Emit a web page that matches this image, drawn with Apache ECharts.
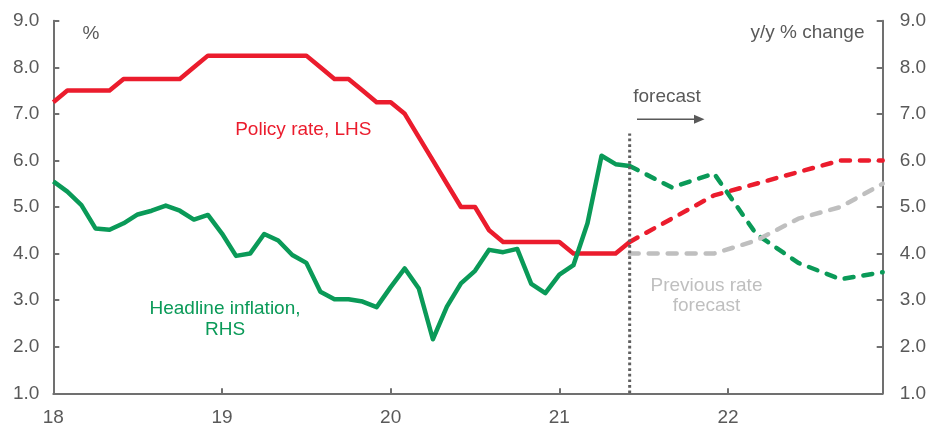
<!DOCTYPE html>
<html>
<head>
<meta charset="utf-8">
<script src="https://cdn.jsdelivr.net/npm/echarts@6/dist/echarts.min.js"></script>
<style>
html,body{margin:0;padding:0;background:#fff;}
#chart{width:929px;height:424px;}
</style>
</head>
<body>
<div id="chart"></div>
<script>
// ---- Data (month index: 0 = Jan 2018) ----
const xTickLabels = ['18', '19', '20', '21', '22'];
const yTickLabels = ['1.0','2.0','3.0','4.0','5.0','6.0','7.0','8.0','9.0'];

// Actual monthly data, Jan 2018 .. Jun 2021
const policyActual = [7.25, 7.5, 7.5, 7.5, 7.5, 7.75, 7.75, 7.75, 7.75, 7.75, 8.0, 8.25,
  8.25, 8.25, 8.25, 8.25, 8.25, 8.25, 8.25, 8.0, 7.75, 7.75, 7.5, 7.25,
  7.25, 7.0, 6.5, 6.0, 5.5, 5.0, 5.0, 4.5, 4.25, 4.25, 4.25, 4.25,
  4.25, 4.0, 4.0, 4.0, 4.0, 4.25];
const inflationActual = [5.55, 5.33, 5.04, 4.54, 4.51, 4.65, 4.84, 4.92, 5.03, 4.92, 4.73, 4.83,
  4.43, 3.95, 4.0, 4.42, 4.28, 3.97, 3.8, 3.18, 3.02, 3.02, 2.97, 2.85,
  3.28, 3.68, 3.25, 2.16, 2.86, 3.36, 3.63, 4.08, 4.03, 4.10, 3.35, 3.15,
  3.55, 3.75, 4.65, 6.1, 5.92, 5.88];

// Quarterly forecast points (month index)
const forecastMonths = [41, 44, 47, 50, 53, 56, 59];
const policyForecast = [4.25, 4.75, 5.25, 5.5, 5.75, 6.0, 6.0];
const inflationForecast = [5.88, 5.42, 5.72, 4.42, 3.8, 3.45, 3.6];
const previousRateForecast = [4.0, 4.0, 4.0, 4.28, 4.75, 5.0, 5.5];

// forecast divider (month index, from/to value)
const forecastStart = 41;
const dividerRange = [1.0, 6.58];

// ---- Build ----
const actualMonths = policyActual.map((_, i) => i);
const zip = (xs, ys) => xs.map((x, i) => [x, ys[i]]);

const RED = '#EB1C2D';
const GREEN = '#0A9A58';
const GRAY = '#BFBFBF';
const AXIS = '#707070';
const TXT = '#595959';
const FONT = 'Liberation Sans, Arial, sans-serif';

const chart = echarts.init(document.getElementById('chart'), null, {renderer: 'canvas'});

const yAxisCommon = {
  type: 'value', min: 1, max: 9, interval: 1,
  axisLine: {show: true, lineStyle: {color: AXIS, width: 2}},
  axisTick: {show: true, inside: true, length: 6, lineStyle: {color: AXIS, width: 2}},
  splitLine: {show: false},
  axisLabel: {color: TXT, fontSize: 19, fontFamily: FONT,
    formatter: v => yTickLabels[Math.round(v) - 1]}
};

const dashed = {type: [9, 10], cap: 'round', width: 4.5};

chart.setOption({
  animation: false,
  backgroundColor: '#fff',
  grid: {left: 53.3, right: 46.3, top: 20.7, bottom: 30.7, containLabel: false, outerBoundsMode: 'none'},
  xAxis: {
    type: 'value', min: 0, max: 59, interval: 12,
    axisLine: {show: true, onZero: false, lineStyle: {color: AXIS, width: 2}},
    axisTick: {show: true, inside: true, length: 5, lineStyle: {color: AXIS, width: 2}},
    splitLine: {show: false},
    axisLabel: {color: TXT, fontSize: 19, fontFamily: FONT, margin: 14.5, showMaxLabel: false,
      formatter: v => (v % 12 === 0 ? xTickLabels[v / 12] : '')}
  },
  yAxis: [
    Object.assign({}, yAxisCommon, {position: 'left', axisLabel: Object.assign({}, yAxisCommon.axisLabel, {margin: 14})}),
    Object.assign({}, yAxisCommon, {position: 'right', axisLabel: Object.assign({}, yAxisCommon.axisLabel, {margin: 17})})
  ],
  series: [
    {name: 'Policy rate', type: 'line', yAxisIndex: 0, data: zip(actualMonths, policyActual),
      symbol: 'none', lineStyle: {color: RED, width: 4.5, join: 'round'}, z: 2},
    {name: 'Policy rate forecast', type: 'line', yAxisIndex: 0, data: zip(forecastMonths, policyForecast),
      symbol: 'none', lineStyle: Object.assign({color: RED}, dashed), z: 2},
    {name: 'Headline inflation', type: 'line', yAxisIndex: 1, data: zip(actualMonths, inflationActual),
      symbol: 'none', lineStyle: {color: GREEN, width: 4.5, join: 'round'}, z: 3},
    {name: 'Headline inflation forecast', type: 'line', yAxisIndex: 1, data: zip(forecastMonths, inflationForecast),
      symbol: 'none', lineStyle: Object.assign({color: GREEN}, dashed), z: 3},
    {name: 'Previous rate forecast', type: 'line', yAxisIndex: 0, data: zip(forecastMonths, previousRateForecast),
      symbol: 'none', lineStyle: Object.assign({color: GRAY}, dashed), z: 4},
    {name: 'Forecast start', type: 'line', yAxisIndex: 0,
      data: [[forecastStart, dividerRange[0]], [forecastStart, dividerRange[1]]],
      symbol: 'none', lineStyle: {color: '#5f5f5f', width: 3, type: [2.7, 2.9]}, z: 5}
  ],
  graphic: [
    {type: 'text', z: 10, style: {text: '%', x: 91, y: 33.5, align: 'center', verticalAlign: 'middle', fill: TXT, font: '19px ' + FONT}},
    {type: 'text', z: 10, style: {text: 'y/y % change', x: 864.5, y: 33, align: 'right', verticalAlign: 'middle', fill: TXT, font: '19px ' + FONT}},
    {type: 'text', z: 10, style: {text: 'Policy rate, LHS', x: 303.3, y: 130, align: 'center', verticalAlign: 'middle', fill: RED, font: '19px ' + FONT}},
    {type: 'text', z: 10, style: {text: 'Headline inflation,\nRHS', x: 225, y: 319, align: 'center', verticalAlign: 'middle', fill: GREEN, font: '19px ' + FONT, lineHeight: 21}},
    {type: 'text', z: 10, style: {text: 'forecast', x: 667, y: 96.7, align: 'center', verticalAlign: 'middle', fill: TXT, font: '19px ' + FONT}},
    {type: 'text', z: 10, style: {text: 'Previous rate\nforecast', x: 706.5, y: 296, align: 'center', verticalAlign: 'middle', fill: GRAY, font: '19px ' + FONT, lineHeight: 20}},
    {type: 'line', z: 10, shape: {x1: 637, y1: 119.3, x2: 697, y2: 119.3}, style: {stroke: TXT, lineWidth: 1.5}},
    {type: 'polygon', z: 10, shape: {points: [[694, 114.8], [704.5, 119.3], [694, 123.8]]}, style: {fill: TXT}}
  ]
});
</script>
</body>
</html>
